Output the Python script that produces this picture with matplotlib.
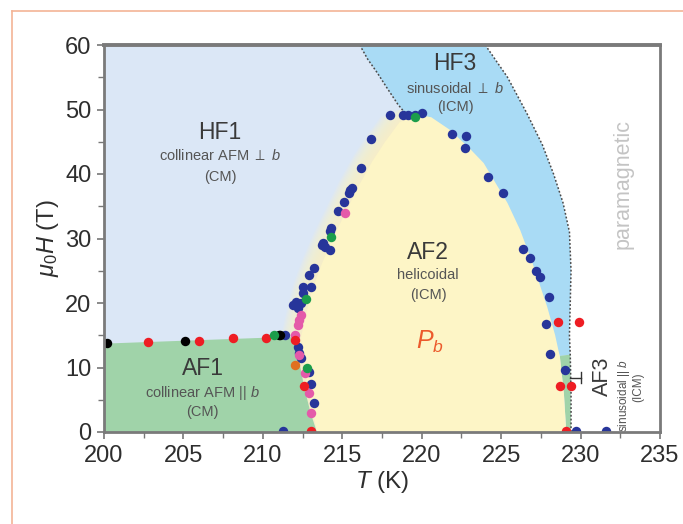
import matplotlib
matplotlib.use("Agg")
import matplotlib.pyplot as plt
import numpy as np
from matplotlib.lines import Line2D

plt.rcParams['font.family'] = ['Liberation Sans', 'DejaVu Sans']
plt.rcParams['mathtext.fontset'] = 'custom'
plt.rcParams['mathtext.rm'] = 'Liberation Sans'
plt.rcParams['mathtext.it'] = 'Liberation Sans:italic'
plt.rcParams['mathtext.bf'] = 'Liberation Sans:bold'
plt.rcParams['mathtext.fallback'] = 'stixsans'

# ---------------- data ----------------
# phase boundaries (T in K, field in T)
af2_left_T = [213.4, 213.0, 212.6, 212.4, 212.7, 213.1, 213.7, 214.4, 215.2, 216.0, 216.9, 217.7, 218.6, 219.6]
af2_left_H = [0, 5, 10, 14.7, 18, 22, 26, 30, 34, 38, 42, 45, 48, 49.2]
af2_right_T = [220.6, 221.8, 223.0, 223.9, 225.4, 226.2, 227.0, 227.9, 228.4, 228.7, 228.95, 229.1]
af2_right_H = [48.8, 46.8, 44.0, 41.7, 35.5, 31.3, 26, 19.4, 15, 11.6, 6, 0]

af1_T = [200, 200, 210, 211.9, 212.2, 212.6, 213.0, 213.4]
af1_H = [0, 13.7, 14.6, 14.7, 12, 7, 3, 0]

hf13_T = [216.1, 216.6, 217.2, 217.8, 218.5, 219.0]
hf13_H = [60, 57.8, 55.7, 53.4, 50.8, 49.3]

hf3_para_T = [224.0, 225.4, 226.6, 227.6, 228.3, 228.9, 229.3, 229.4, 229.35, 229.3, 229.35, 229.4, 229.4]
hf3_para_H = [60, 55, 49.5, 44.5, 40, 35.5, 31, 25, 20, 15, 12, 6, 0]

# measured transition points
blue_T = [218.0, 218.8, 219.15, 219.6, 220.0, 216.8, 216.2, 215.5, 215.6, 215.4, 215.1, 214.7,
          214.3, 214.2, 213.7, 213.9, 214.2, 213.8, 213.2, 212.9, 212.5, 213.0, 212.5,
          211.9, 212.2, 212.4, 212.1, 211.4, 212.2, 212.3, 212.4, 212.9, 213.0, 213.2, 211.25,
          221.9, 222.8, 222.7, 224.2, 225.1, 226.35, 226.8, 227.2, 227.45, 228.0, 227.8,
          228.1, 229.0, 229.7, 231.6]
blue_H = [49.1, 49.1, 49.1, 49.1, 49.5, 45.4, 41.0, 37.5, 37.8, 37.0, 35.7, 34.2,
          31.6, 31.1, 29.0, 28.7, 28.2, 29.3, 25.4, 24.3, 22.5, 22.5, 21.6,
          19.7, 19.2, 20.0, 20.2, 15.0, 13.2, 12.2, 11.4, 9.3, 7.4, 4.5, 0.2,
          46.2, 45.9, 44.1, 39.5, 37.0, 28.4, 26.9, 25.0, 24.1, 21.0, 16.8,
          12.1, 9.6, 0.2, 0.2]
red_T = [202.75, 206.0, 208.1, 210.2, 212.0, 212.6, 228.6, 229.9, 228.7, 229.4, 213.0, 229.1]
red_H = [14.0, 14.1, 14.6, 14.6, 14.3, 7.1, 17.1, 17.1, 7.1, 7.1, 0.2, 0.2]
black_T = [200.2, 205.1, 211.0, 211.1]
black_H = [13.75, 14.1, 15.0, 15.0]
pink_T = [215.2, 212.4, 212.3, 212.2, 212.0, 212.3, 212.65, 212.9, 213.0]
pink_H = [33.9, 18.1, 17.4, 16.6, 15.0, 11.9, 9.1, 6.1, 3.0]
green_T = [219.6, 214.3, 212.7, 210.7, 212.8]
green_H = [48.8, 30.2, 20.6, 15.0, 9.9]
orange_T = [212.0]
orange_H = [10.4]

x_ticks = [200, 205, 210, 215, 220, 225, 230, 235]
y_ticks = [0, 10, 20, 30, 40, 50, 60]

# ---------------- colours ----------------
c_hf1 = '#dbe7f6'
c_hf3 = '#a9dbf5'
c_af2 = '#fdf5c6'
c_af1 = '#a0d3a9'
c_blue = '#27359a'
c_red = '#ee1d23'
c_pink = '#e45aa9'
c_green = '#1b9d4b'

fig = plt.figure(figsize=(6.83, 5.24), dpi=100)
ax = fig.add_axes([104/683, 1-432/524, 556/683, 387/524])
ax.set_facecolor(c_hf1)

# HF3 region (between dotted lines, above dome)
hf3_poly_T = hf13_T + [222.0, 226.0, 228.7] + hf3_para_T[:11][::-1]
hf3_poly_H = hf13_H + [44, 30, 11.8] + hf3_para_H[:11][::-1]
ax.fill(hf3_poly_T, hf3_poly_H, color=c_hf3, lw=0, zorder=1)

# paramagnetic (white)
ax.fill(hf3_para_T + [236, 236, 224.0], hf3_para_H + [0, 61, 61], color='white', lw=0, zorder=1)

# AF3 strip
af3_T = af2_right_T[-3:] + [229.4, 229.35, 228.7]
af3_H = af2_right_H[-3:] + [0, 12, 11.8]
ax.fill(af3_T, af3_H, color=c_af1, lw=0, zorder=1.5)

# AF2 dome with soft left edge
dome_T = np.array(af2_left_T + af2_right_T)
dome_H = np.array(af2_left_H + af2_right_H)
for k in range(16, 0, -1):
    ax.fill(dome_T - k * 0.075, dome_H + k * 0.05, color=c_af2, alpha=0.12, lw=0, zorder=2)
ax.fill(dome_T, dome_H, color=c_af2, lw=0, zorder=2.1)

# AF1
ax.fill(af1_T, af1_H, color=c_af1, lw=0, zorder=2.2)

# dotted boundaries
dot = dict(color='#4a4a4a', lw=1.1, linestyle=(0, (1.2, 1.3)), zorder=3)
ax.plot(hf13_T, hf13_H, **dot)
ax.plot(hf3_para_T, hf3_para_H, **dot)

# points
ms = 6.8
for T, H, c in [(blue_T, blue_H, c_blue), (pink_T, pink_H, c_pink), (red_T, red_H, c_red),
                (black_T, black_H, 'black'), (green_T, green_H, c_green),
                (orange_T, orange_H, '#e07020')]:
    ax.plot(T, H, 'o', color=c, ms=ms, mec='none', zorder=5)

# labels
tc = '#3a3a3a'
sc = '#555555'
big = 16.5
small = 10.5
ax.text(207.3, 46.5, 'HF1', ha='center', va='center', fontsize=big, color=tc, zorder=6)
ax.text(207.3, 42.8, r'collinear AFM $\perp$ $b$', ha='center', va='center', fontsize=small, color=sc, zorder=6)
ax.text(207.3, 39.5, '(CM)', ha='center', va='center', fontsize=small, color=sc, zorder=6)

ax.text(222.1, 57.2, 'HF3', ha='center', va='center', fontsize=big, color=tc, zorder=6)
ax.text(222.1, 53.3, r'sinusoidal $\perp$ $b$', ha='center', va='center', fontsize=small, color=sc, zorder=6)
ax.text(222.1, 50.4, '(ICM)', ha='center', va='center', fontsize=small, color=sc, zorder=6)

ax.text(220.4, 27.9, 'AF2', ha='center', va='center', fontsize=big, color=tc, zorder=6)
ax.text(220.4, 24.3, 'helicoidal', ha='center', va='center', fontsize=small, color=sc, zorder=6)
ax.text(220.4, 21.2, '(ICM)', ha='center', va='center', fontsize=small, color=sc, zorder=6)
ax.text(220.5, 14.0, '$P_b$', ha='center', va='center', fontsize=18, color='#ec5a2c', zorder=6)

ax.text(206.2, 9.9, 'AF1', ha='center', va='center', fontsize=big, color=tc, zorder=6)
ax.text(206.2, 6.0, 'collinear AFM || $b$', ha='center', va='center', fontsize=small, color=sc, zorder=6)
ax.text(206.2, 3.1, '(CM)', ha='center', va='center', fontsize=small, color=sc, zorder=6)

ax.text(231.4, 8.6, 'AF3', ha='center', va='center', fontsize=15.5, color=tc, rotation=90, zorder=6)
ax.text(232.75, 5.6, 'sinusoidal || $b$', ha='center', va='center', fontsize=8.5, color=sc, rotation=90, zorder=6)
ax.text(233.65, 6.9, '(ICM)', ha='center', va='center', fontsize=8.5, color=sc, rotation=90, zorder=6)
ax.plot([229.35, 230.0], [8.4, 8.4], color='#333333', lw=1.0, zorder=6)
ax.plot([230.0, 230.0], [7.6, 9.3], color='#333333', lw=1.0, zorder=6)

ax.text(232.7, 38.4, 'paramagnetic', ha='center', va='center', fontsize=15.5, color='#c4c4c4', rotation=90, zorder=6)

# axes styling
ax.set_xlim(200, 235)
ax.set_ylim(0, 60)
ax.set_xticks(x_ticks)
ax.set_yticks(y_ticks)
ax.set_xticks(np.arange(200, 235.1, 2.5), minor=True)
ax.set_yticks(np.arange(0, 60.1, 5), minor=True)
ax.tick_params(which='major', direction='out', length=5, width=1.2, color='#777777',
               labelsize=17, labelcolor='#2e2e2e', pad=4)
ax.tick_params(which='minor', direction='out', length=4, width=1.0, color='#777777')
for s in ax.spines.values():
    s.set_color('#7a7a7a')
    s.set_linewidth(2.0)
    s.set_zorder(8)
ax.spines['top'].set_linewidth(2.8)

ax.set_xlabel('$T$ (K)', fontsize=17.5, color='#2e2e2e', labelpad=2)
ax.set_ylabel(r'$\mu_0H$ (T)', fontsize=17, color='#2e2e2e', labelpad=3)

# peach frame
fig.add_artist(Line2D([12/683, 1.0], [1-10.5/524, 1-10.5/524], transform=fig.transFigure,
                      color='#f4b496', lw=1.2))
fig.add_artist(Line2D([12/683, 12/683], [0, 1-10.5/524], transform=fig.transFigure,
                      color='#f4b496', lw=1.2))

fig.savefig('out.png', dpi=100)
